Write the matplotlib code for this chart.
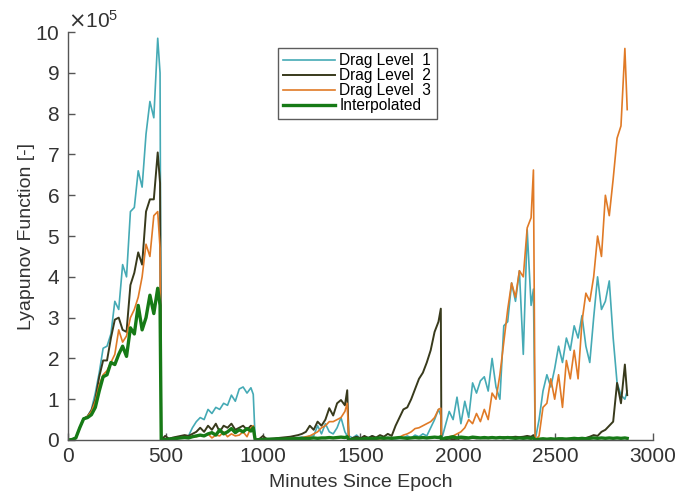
import numpy as np
import matplotlib
matplotlib.use("Agg")
import matplotlib.pyplot as plt
from matplotlib.ticker import ScalarFormatter

plt.rcParams['font.family'] = ['Liberation Sans', 'DejaVu Sans']

# segment start times (minutes) and sample offsets within each segment
seg_starts = [0, 478, 960, 1440, 1915, 2396]
seg_offsets = list(range(0, 461, 20)) + [472]

# values in units of 1e5, one list per segment
cyan_segs = [
    [0, 0.01, 0.05, 0.3, 0.52, 0.58, 0.75, 1.15, 1.65, 2.25, 2.3, 2.6, 3.4, 3.2, 4.3, 4.0, 5.6, 5.7, 6.6, 6.2, 7.5, 8.3, 7.9, 9.85, 9.0],
    [0, 0.02, 0.04, 0.05, 0.06, 0.08, 0.1, 0.1, 0.3, 0.45, 0.55, 0.5, 0.75, 0.65, 0.8, 0.75, 0.9, 0.85, 1.1, 0.95, 1.25, 1.3, 1.15, 1.28, 1.12],
    [0, 0.02, 0.03, 0.02, 0.03, 0.03, 0.04, 0.03, 0.05, 0.04, 0.06, 0.05, 0.08, 0.06, 0.1, 0.1, 0.35, 0.15, 0.4, 0.2, 0.15, 0.3, 0.55, 0.2, 0.1],
    [0.1, 0.05, 0.12, 0.03, 0.08, 0.05, 0.1, 0.04, 0.06, 0.05, 0.03, 0.04, 0.03, 0.04, 0.05, 0.1, 0.05, 0.12, 0.08, 0.15, 0.1, 0.3, 0.5, 0.75, 0.6],
    [0, 0.35, 0.7, 0.5, 1.05, 0.4, 0.95, 0.55, 1.4, 1.15, 1.45, 1.55, 1.2, 2.0, 1.3, 1.0, 2.8, 2.9, 3.85, 3.4, 4.15, 2.1, 5.15, 3.3, 3.7],
    [0, 0.5, 1.2, 1.6, 1.3, 1.75, 2.3, 1.9, 2.5, 2.2, 2.8, 2.5, 3.05, 2.3, 1.9, 3.0, 4.0, 3.2, 3.4, 3.9, 2.5, 1.4, 1.1, 1.0, 1.2],
]
black_segs = [
    [0, 0.01, 0.05, 0.3, 0.52, 0.58, 0.72, 1.0, 1.55, 1.95, 1.95, 2.5, 2.95, 3.0, 2.7, 2.65, 3.8, 4.1, 4.6, 4.3, 5.6, 5.9, 5.9, 7.05, 6.3],
    [0, 0.1, 0.03, 0.06, 0.08, 0.1, 0.12, 0.1, 0.15, 0.2, 0.3, 0.2, 0.35, 0.25, 0.4, 0.2, 0.35, 0.3, 0.4, 0.25, 0.3, 0.35, 0.25, 0.35, 0.3],
    [0, 0.02, 0.1, 0.02, 0.03, 0.04, 0.05, 0.06, 0.07, 0.08, 0.1, 0.12, 0.15, 0.2, 0.35, 0.25, 0.45, 0.35, 0.5, 0.78, 0.6, 0.9, 0.98, 0.85, 1.22],
    [0, 0.05, 0.08, 0.04, 0.1, 0.05, 0.1, 0.06, 0.12, 0.08, 0.15, 0.1, 0.35, 0.55, 0.75, 0.8, 1.0, 1.25, 1.5, 1.65, 1.9, 2.2, 2.65, 2.9, 3.22],
    [0, 0.02, 0.03, 0.02, 0.03, 0.04, 0.03, 0.04, 0.05, 0.04, 0.05, 0.04, 0.05, 0.06, 0.05, 0.06, 0.07, 0.06, 0.07, 0.08, 0.07, 0.08, 0.1, 0.08, 0.12],
    [0, 0.01, 0.02, 0.01, 0.02, 0.02, 0.03, 0.02, 0.03, 0.03, 0.04, 0.03, 0.05, 0.05, 0.08, 0.12, 0.1, 0.2, 0.25, 0.35, 0.45, 1.4, 0.9, 1.85, 1.1],
]
orange_segs = [
    [0, 0.01, 0.05, 0.3, 0.52, 0.58, 0.7, 0.95, 1.35, 1.6, 1.7, 1.9, 2.1, 2.7, 2.4, 2.55, 3.0, 3.2, 3.5, 4.0, 4.8, 4.5, 5.5, 5.6, 4.7],
    [0, 0.01, 0.02, 0.03, 0.05, 0.05, 0.08, 0.05, 0.1, 0.08, 0.12, 0.1, 0.15, 0.05, 0.12, 0.1, 0.2, 0.08, 0.15, 0.1, 0.12, 0.2, 0.08, 0.3, 0.35],
    [0, 0, 0.01, 0.01, 0.02, 0.02, 0.02, 0.03, 0.03, 0.04, 0.04, 0.05, 0.06, 0.08, 0.1, 0.15, 0.2, 0.3, 0.35, 0.45, 0.45, 0.5, 0.55, 0.7, 0.9],
    [0, 0.01, 0.01, 0.02, 0.02, 0.02, 0.03, 0.02, 0.03, 0.03, 0.04, 0.05, 0.05, 0.07, 0.12, 0.15, 0.2, 0.28, 0.3, 0.35, 0.4, 0.45, 0.55, 0.75, 0.78],
    [0, 0.05, 0.08, 0.1, 0.15, 0.2, 0.3, 0.5, 0.4, 0.65, 0.45, 0.75, 0.5, 1.15, 1.0, 1.6, 2.4, 3.2, 3.85, 3.5, 4.15, 4.0, 5.2, 5.45, 6.62],
    [0, 0.1, 0.8, 0.9, 1.5, 1.0, 1.6, 0.8, 1.95, 1.5, 2.2, 1.5, 2.9, 3.6, 3.4, 4.0, 5.0, 4.5, 6.0, 5.5, 6.4, 7.4, 7.7, 9.6, 8.1],
]
green_segs = [
    [0, 0.01, 0.05, 0.3, 0.52, 0.55, 0.62, 0.8, 1.2, 1.55, 1.6, 1.9, 1.85, 2.1, 2.3, 2.05, 2.75, 2.6, 3.3, 2.7, 3.0, 3.55, 3.1, 3.72, 3.3],
    [0, 0.01, 0.02, 0.03, 0.04, 0.05, 0.06, 0.05, 0.08, 0.1, 0.12, 0.1, 0.15, 0.18, 0.12, 0.25, 0.15, 0.2, 0.28, 0.18, 0.25, 0.2, 0.28, 0.22, 0.3],
    [0, 0.01, 0.01, 0.02, 0.02, 0.02, 0.03, 0.02, 0.03, 0.03, 0.03, 0.04, 0.03, 0.04, 0.04, 0.05, 0.04, 0.05, 0.05, 0.06, 0.05, 0.06, 0.07, 0.06, 0.08],
    [0, 0.02, 0.03, 0.02, 0.03, 0.04, 0.03, 0.04, 0.05, 0.04, 0.05, 0.04, 0.05, 0.06, 0.05, 0.04, 0.05, 0.06, 0.05, 0.06, 0.05, 0.06, 0.07, 0.06, 0.08],
    [0, 0.05, 0.06, 0.08, 0.05, 0.07, 0.06, 0.05, 0.07, 0.06, 0.05, 0.06, 0.05, 0.06, 0.05, 0.06, 0.05, 0.06, 0.05, 0.04, 0.05, 0.04, 0.05, 0.04, 0.05],
    [0, 0.02, 0.03, 0.02, 0.03, 0.02, 0.03, 0.03, 0.02, 0.03, 0.04, 0.03, 0.04, 0.03, 0.04, 0.05, 0.04, 0.05, 0.04, 0.05, 0.04, 0.05, 0.04, 0.05, 0.04],
]

labels = ['Drag Level  1', 'Drag Level  2', 'Drag Level  3', 'Interpolated']
colors = ['#45aab5', '#383a1c', '#e07a26', '#167a16']
widths = [1.2, 1.4, 1.2, 2.4]

t = np.concatenate([np.array(seg_offsets) + s for s in seg_starts])
series = [cyan_segs, black_segs, orange_segs, green_segs]

fig = plt.figure(figsize=(6.83, 4.92), dpi=100)
ax = fig.add_axes([0.0996, 0.1057, 0.8564, 0.829])

for segs, lab, col, lw in zip(series, labels, colors, widths):
    y = np.concatenate([np.array(v) for v in segs]) * 1e5
    ax.plot(t, y, color=col, lw=lw, label=lab)

ax.set_xlim(0, 3000)
ax.set_ylim(0, 10e5)
ax.set_xticks(np.arange(0, 3001, 500))
ax.set_yticks(np.arange(0, 10.01, 1) * 1e5)
fmt = ScalarFormatter(useMathText=True)
fmt.set_powerlimits((5, 5))
ax.yaxis.set_major_formatter(fmt)
ax.yaxis.get_offset_text().set_fontsize(15)
ax.yaxis.get_offset_text().set_color('#333333')

for side in ['top', 'right']:
    ax.spines[side].set_visible(False)
for side in ['left', 'bottom']:
    ax.spines[side].set_color('#555555')
    ax.spines[side].set_linewidth(1.0)
ax.tick_params(direction='in', length=5, width=1.0, colors='#555555',
               labelcolor='#333333', labelsize=15)
ax.tick_params(axis='x', pad=5)
ax.tick_params(axis='y', pad=6)

ax.set_xlabel('Minutes Since Epoch', fontsize=14, color='#333333', labelpad=6)
ax.set_ylabel('Lyapunov Function [-]', fontsize=14, color='#333333', labelpad=0)

leg = ax.legend(loc='upper left', bbox_to_anchor=(0.359, 0.962), fontsize=11.2,
                frameon=True, fancybox=False, edgecolor='#333333',
                handlelength=3.3, handletextpad=0.3, borderpad=0.35,
                labelspacing=0.0, borderaxespad=0)
leg.get_frame().set_linewidth(1.0)

fig.savefig('out.png', dpi=100)
